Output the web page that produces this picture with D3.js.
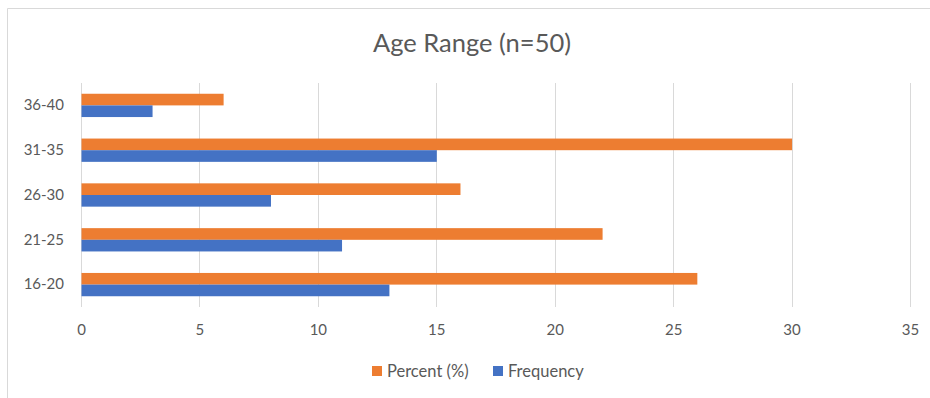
<!DOCTYPE html>
<html>
<head>
<meta charset="utf-8">
<script src="https://cdn.jsdelivr.net/npm/d3@7"></script>
<style>
  html, body { margin: 0; padding: 0; background: #fff; }
  svg { display: block; }
  text { font-family: Lato, "Open Sans", sans-serif; fill: #595959; }
</style>
</head>
<body>
<svg id="chart" width="930" height="398"></svg>
<script>
// Age groups, listed bottom to top
const categories = ["16-20", "21-25", "26-30", "31-35", "36-40"];
const percentValues = [26, 22, 16, 30, 6];
const frequencyValues = [13, 11, 8, 15, 3];
const xTicks = [0, 5, 10, 15, 20, 25, 30, 35];
const seriesNames = ["Percent (%)", "Frequency"];
const seriesColors = ["#ED7D31", "#4472C4"];
const title = "Age Range (n=50)";

const svg = d3.select("#chart");
const W = 930, H = 398;

// chart frame (top and left edges visible)
svg.append("line").attr("x1", 7.5).attr("x2", W).attr("y1", 8.5).attr("y2", 8.5)
  .attr("stroke", "#D9D9D9").attr("stroke-width", 1);
svg.append("line").attr("x1", 7.5).attr("x2", 7.5).attr("y1", 8.5).attr("y2", H)
  .attr("stroke", "#D9D9D9").attr("stroke-width", 1);

const plot = { left: 81, right: 910, top: 83, bottom: 307 };

const x = d3.scaleLinear().domain([0, 35]).range([plot.left, plot.right]);
const y = d3.scaleBand().domain(categories.slice().reverse())
  .range([plot.top, plot.bottom]).paddingInner(0.48).paddingOuter(0.24);
const inner = d3.scaleBand().domain(seriesNames).range([0, y.bandwidth()]);

// vertical gridlines
svg.append("g").selectAll("line").data(xTicks).join("line")
  .attr("x1", d => Math.round(x(d)) + 0.5).attr("x2", d => Math.round(x(d)) + 0.5)
  .attr("y1", plot.top).attr("y2", plot.bottom)
  .attr("stroke", "#D9D9D9").attr("stroke-width", 1);

// x-axis tick labels
const xAxis = d3.axisBottom(x).tickValues(xTicks).tickSize(0).tickPadding(0);
const gx = svg.append("g").attr("transform", `translate(0,${plot.bottom + 17})`).call(xAxis);
gx.select(".domain").remove();
gx.selectAll("text").style("font-size", "15px").attr("fill", "#595959")
  .style("font-family", "Lato, 'Open Sans', sans-serif");

// category labels
const yAxis = d3.axisLeft(y).tickSize(0).tickPadding(17);
const gy = svg.append("g").attr("transform", `translate(${plot.left},0)`).call(yAxis);
gy.select(".domain").remove();
gy.selectAll("text").style("font-size", "15px").attr("fill", "#595959")
  .style("font-family", "Lato, 'Open Sans', sans-serif");

// bars
const rows = categories.map((c, i) => ({ cat: c, vals: [percentValues[i], frequencyValues[i]] }));
const groups = svg.append("g").selectAll("g").data(rows).join("g")
  .attr("transform", d => `translate(0,${y(d.cat)})`);
groups.selectAll("rect").data(d => d.vals.map((v, j) => ({ v, s: seriesNames[j], c: seriesColors[j] })))
  .join("rect")
  .attr("x", x(0) + 0.5)
  .attr("y", d => inner(d.s))
  .attr("width", d => x(d.v) - x(0))
  .attr("height", inner.bandwidth())
  .attr("fill", d => d.c);

// title
svg.append("text").attr("x", 472).attr("y", 52).attr("text-anchor", "middle")
  .style("font-size", "25.5px").text(title);

// legend
const legendItems = [
  { name: seriesNames[0], color: seriesColors[0], x: 372 },
  { name: seriesNames[1], color: seriesColors[1], x: 493 }
];
const lg = svg.append("g").selectAll("g").data(legendItems).join("g")
  .attr("transform", d => `translate(${d.x},366)`);
lg.append("rect").attr("width", 10).attr("height", 10).attr("fill", d => d.color);
lg.append("text").attr("x", 15).attr("y", 10.5).style("font-size", "16.5px").text(d => d.name);
</script>
</body>
</html>
